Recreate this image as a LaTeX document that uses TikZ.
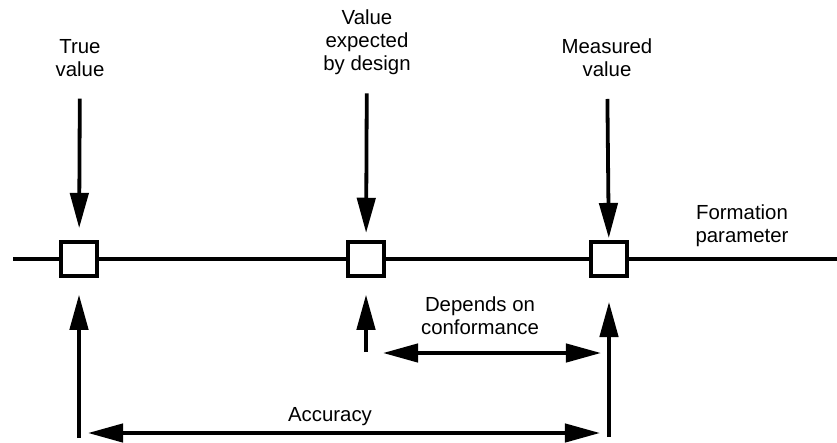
\documentclass[tikz,border=0pt]{standalone}
\usepackage{fontspec}
\setmainfont{Liberation Sans}
\usetikzlibrary{arrows.meta}

\begin{document}
\begin{tikzpicture}[x=0.025cm, y=-0.025cm, line width=2.7pt,
    marker/.style={draw, fill=white, minimum width=0.9cm, minimum height=0.85cm, inner sep=0pt},
    lbl/.style={align=center, inner sep=0pt, font=\fontsize{14.5}{16.5}\selectfont},
    arr/.style={-{Triangle[length=25pt,width=13pt]}},
    dblarr/.style={{Triangle[length=25pt,width=13pt]}-{Triangle[length=25pt,width=13pt]}}]
    \useasboundingbox (0,0) rectangle (837,442);

    \node (tv) [lbl] at (80,58) {True\\value};
    \node (vd) [lbl] at (367,42) {Value\\expected\\by design};
    \node (mv) [lbl] at (607,58) {Measured\\value};
    \node (fp) [lbl] at (742,226) {Formation\\parameter};
    \node (dc) [lbl] at (480,316) {Depends on\\conformance};
    \node (acc) [lbl] at (330,417) {Accuracy};

    \coordinate (axl) at (13,259);
    \coordinate (axr) at (837,259);
    \node (tb) [marker] at (79,259) {};
    \node (db) [marker] at (366,259) {};
    \node (mb) [marker] at (609,259) {};
    \draw (axl) -- (tb) -- (db) -- (mb) -- (axr);

    \draw [arr, shorten <=0.5cm, shorten >=0.3cm] (tv) -- (tb);
    \draw [arr, shorten <=0.42cm, shorten >=0.18cm] (vd) -- (db);
    \draw [arr, shorten <=0.5cm, shorten >=0.05cm] (mv) -- (mb);

    \coordinate (tf) at (79,438);
    \coordinate (df) at (366,352);
    \coordinate (mf) at (609,437);
    \draw [arr, shorten >=0.42cm] (tf) -- (tb);
    \draw [arr, shorten >=0.42cm] (df) -- (db);
    \draw [arr, shorten >=0.6cm] (mf) -- (mb);

    \coordinate (dl) at (383,353);
    \coordinate (dr) at (601,353);
    \coordinate (al) at (88,433);
    \coordinate (ar) at (600,433);
    \draw [dblarr] (dl) -- (dr);
    \draw [dblarr] (al) -- (ar);
\end{tikzpicture}
\end{document}
